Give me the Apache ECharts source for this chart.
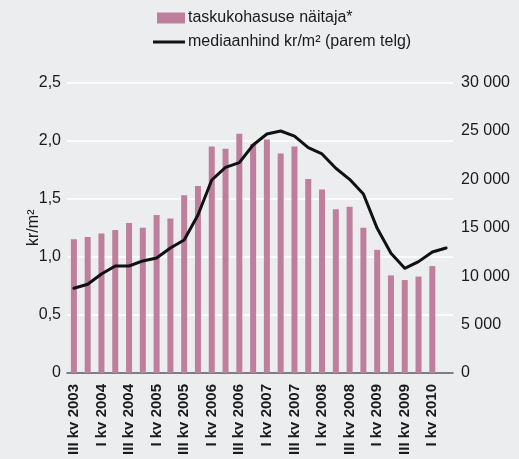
<!DOCTYPE html>
<html>
<head>
<meta charset="utf-8">
<script src="https://cdn.jsdelivr.net/npm/echarts@6/dist/echarts.min.js"></script>
<style>
  html, body { margin: 0; padding: 0; background: #ecedef; }
  #chart { width: 519px; height: 459px; }
</style>
</head>
<body>
<div id="chart"></div>
<script>
// Quarters from III kv 2003 to II kv 2010
const categories = [
  'III kv 2003', 'IV kv 2003',
  'I kv 2004', 'II kv 2004', 'III kv 2004', 'IV kv 2004',
  'I kv 2005', 'II kv 2005', 'III kv 2005', 'IV kv 2005',
  'I kv 2006', 'II kv 2006', 'III kv 2006', 'IV kv 2006',
  'I kv 2007', 'II kv 2007', 'III kv 2007', 'IV kv 2007',
  'I kv 2008', 'II kv 2008', 'III kv 2008', 'IV kv 2008',
  'I kv 2009', 'II kv 2009', 'III kv 2009', 'IV kv 2009',
  'I kv 2010', 'II kv 2010'
];

// Affordability indicator (left axis, kr/m²)
const affordability = [
  1.15, 1.17, 1.20, 1.23, 1.29, 1.25, 1.36, 1.33, 1.53, 1.61,
  1.95, 1.93, 2.06, 1.97, 2.01, 1.89, 1.95, 1.67, 1.58, 1.41,
  1.43, 1.25, 1.06, 0.84, 0.80, 0.83, 0.92, null
];

// Median price kr/m² (right axis)
const medianPrice = [
  8750, 9160, 10220, 11050, 11050, 11570, 11880, 12910, 13740, 16320,
  19930, 21240, 21720, 23550, 24680, 24990, 24470, 23270, 22620, 21140,
  20000, 18490, 14940, 12360, 10810, 11500, 12500, 12910
];

const barName = 'taskukohasuse näitaja*';
const lineName = 'mediaanhind kr/m² (parem telg)';

const textColor = '#1a1a1a';
const fontFamily = '"Liberation Sans", Arial, Helvetica, sans-serif';

const chart = echarts.init(document.getElementById('chart'), null, { renderer: 'canvas' });

chart.setOption({
  backgroundColor: '#ecedef',
  animation: false,
  textStyle: { fontFamily: fontFamily, color: textColor },
  legend: [
    {
      data: [{ name: barName, icon: 'rect' }],
      orient: 'vertical',
      left: 157,
      top: 10,
      padding: 0,
      itemWidth: 28,
      itemHeight: 11,
      textStyle: { fontSize: 16, color: textColor, fontFamily: fontFamily, padding: [0, 0, 0, -2] }
    },
    {
      data: [{ name: lineName, icon: 'rect' }],
      orient: 'vertical',
      left: 153,
      top: 34,
      padding: 0,
      itemWidth: 32,
      itemHeight: 3,
      textStyle: { fontSize: 16, color: textColor, fontFamily: fontFamily, padding: [0, 0, 0, -2] }
    }
  ],
  grid: { left: 67, right: 66, top: 82.5, bottom: 86, containLabel: false },
  xAxis: {
    type: 'category',
    data: categories,
    axisLine: { lineStyle: { color: '#555', width: 1.5 } },
    axisTick: { show: false },
    axisLabel: {
      interval: 1,
      rotate: 90,
      margin: 11,
      fontSize: 15,
      fontWeight: 'bold',
      color: textColor,
      fontFamily: fontFamily
    }
  },
  yAxis: [
    {
      type: 'value',
      min: 0,
      max: 2.5,
      interval: 0.5,
      name: 'kr/m²',
      nameLocation: 'middle',
      nameGap: 25,
      nameRotate: 90,
      nameMoveOverlap: false,
      nameTextStyle: { fontSize: 16, color: textColor, fontFamily: fontFamily },
      axisLine: { show: false },
      axisTick: { show: false },
      splitLine: { lineStyle: { color: '#ffffff', width: 1.5 } },
      axisLabel: {
        margin: 6,
        fontSize: 16,
        color: textColor,
        fontFamily: fontFamily,
        formatter: v => v === 0 ? '0' : v.toFixed(1).replace('.', ',')
      }
    },
    {
      type: 'value',
      min: 0,
      max: 30000,
      interval: 5000,
      position: 'right',
      axisLine: { show: false },
      axisTick: { show: false },
      splitLine: { show: false },
      axisLabel: {
        margin: 8,
        fontSize: 16,
        color: textColor,
        fontFamily: fontFamily,
        formatter: v => String(v).replace(/\B(?=(\d{3})+(?!\d))/g, ' ')
      }
    }
  ],
  series: [
    {
      name: barName,
      type: 'bar',
      data: affordability,
      yAxisIndex: 0,
      barWidth: 6,
      itemStyle: { color: '#bd7f9b' }
    },
    {
      name: lineName,
      type: 'line',
      data: medianPrice,
      yAxisIndex: 1,
      symbol: 'none',
      showSymbol: false,
      lineStyle: { color: '#111111', width: 3, join: 'round', cap: 'round' },
      itemStyle: { color: '#111111' },
      z: 5
    }
  ]
});
</script>
</body>
</html>
